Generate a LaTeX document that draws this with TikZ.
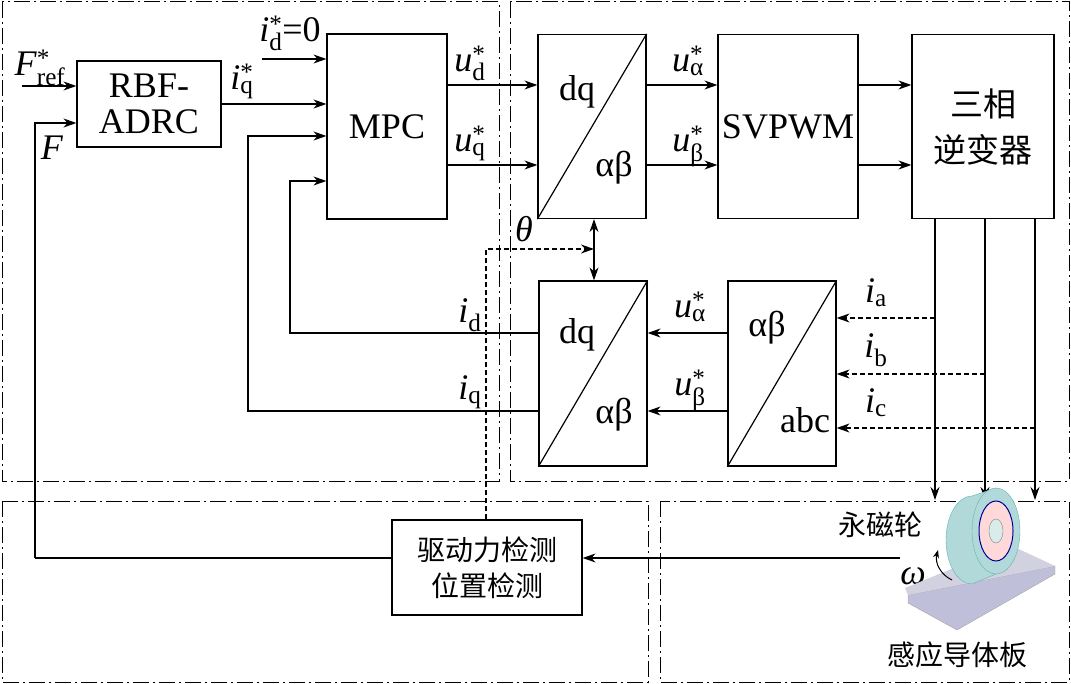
\documentclass[tikz,border=0pt]{standalone}
\usepackage{fontspec}
\setmainfont{Liberation Serif}
\newfontfamily\cjk{Noto Sans CJK SC}
\usetikzlibrary{arrows.meta}
\newcommand\vv[3]{\textit{#1}\rlap{\textsuperscript{#3}}\textsubscript{#2}}
\begin{document}
\begin{tikzpicture}[x=1pt,y=-1pt,
  ln/.style={line width=1.2pt},
  ar/.style={line width=1.2pt,-{Stealth[length=13pt,width=9pt]}},
  dar/.style={line width=1.1pt,dash pattern=on 5pt off 3pt,-{Stealth[length=13pt,width=9pt]}},
  reg/.style={line width=1pt,dash pattern=on 16pt off 4pt on 2pt off 4pt},
  txt/.style={font=\fontsize{36}{36}\selectfont},
  lb/.style={font=\fontsize{36}{36}\selectfont},
  ck/.style={font=\cjk\fontsize{28}{36}\selectfont}]
\useasboundingbox (0,0) rectangle (1071,684);
% regions
\draw[reg] (2,2) rectangle (499,481);
\draw[reg] (510,2) rectangle (1069,481);
\draw[reg] (2,501) rectangle (648,682);
\draw[reg] (660,501) rectangle (1069,682);
% blocks
\node[draw,ln,minimum width=144pt,minimum height=86pt,align=center,txt,inner sep=0pt] (adrc) at (149,104) {RBF-\\ADRC};
\node[draw,ln,minimum width=120pt,minimum height=185pt,txt] (mpc) at (387,126.5) {MPC};
\node[draw,ln,minimum width=108pt,minimum height=184pt] (t1) at (592,126.5) {};
\draw[ln] (t1.south west) -- (t1.north east);
\node[txt] at (577,92) {dq}; \node[txt] at (614,168) {αβ};
\node[draw,ln,minimum width=140pt,minimum height=184pt,txt,inner sep=0pt] (svp) at (788,126.5) {SVPWM};
\node[draw,ln,minimum width=142pt,minimum height=184pt,align=center,font=\cjk\fontsize{33}{46}\selectfont] (inv) at (983,126.5) {三相\\逆变器};
\node[draw,ln,minimum width=108pt,minimum height=185pt] (t2) at (593,373.5) {};
\draw[ln] (t2.south west) -- (t2.north east);
\node[txt] at (577,335) {dq}; \node[txt] at (614,415) {αβ};
\node[draw,ln,minimum width=108pt,minimum height=185pt] (t3) at (782,373.5) {};
\draw[ln] (t3.south west) -- (t3.north east);
\node[txt] at (767,328) {αβ}; \node[txt] at (805,420) {abc};
\node[draw,ln,minimum width=190pt,minimum height=95pt,align=center,ck,inner sep=0pt] (det) at (487,567.5) {驱动力检测\\位置检测};
% coordinates
\coordinate (fr) at (22,86);
\coordinate (fv) at (35,558);
\coordinate (id0) at (262,59);
\coordinate (wo) at (900,558);
% inputs
\draw[ar] (fr) -- (fr -| adrc.west);
\draw[ar] (fv) -- (35,123) -- (adrc.west |- 0,123);
\draw[ln] (fv) -- (det.west |- fv);
\draw[ar] (wo) -- (det.east |- wo);
\draw[ar] (id0) -- (mpc.west |- id0);
\draw[ar] (adrc.east |- 0,104) -- (mpc.west |- 0,104);
\draw[ar] (t2.west |- 0,411) -- (248,411) -- (248,136) -- (mpc.west |- 0,136);
\draw[ar] (t2.west |- 0,333) -- (290,333) -- (290,181) -- (mpc.west |- 0,181);
\draw[ar] (mpc.east |- 0,85) -- (t1.west |- 0,85);
\draw[ar] (mpc.east |- 0,165) -- (t1.west |- 0,165);
\draw[ar] (t1.east |- 0,85) -- (svp.west |- 0,85);
\draw[ar] (t1.east |- 0,165) -- (svp.west |- 0,165);
\draw[ar] (svp.east |- 0,85) -- (inv.west |- 0,85);
\draw[ar] (svp.east |- 0,165) -- (inv.west |- 0,165);
\draw[ln,{Stealth[length=13pt,width=9pt]}-{Stealth[length=13pt,width=9pt]}] (t1.south -| 594,0) -- (t2.north -| 594,0);
\draw[dar] (det.north -| 486,0) -- (486,249) -- (594,249);
\draw[ar] (t3.west |- 0,333) -- (t2.east |- 0,333);
\draw[ar] (t3.west |- 0,411) -- (t2.east |- 0,411);
\foreach \x/\y in {935/318,985/374,1035/428}{
  \draw[ar] (inv.south -| \x,0) -- (\x,500);
  \draw[dar] (\x,\y) -- (t3.east |- 0,\y);
}
% labels
\node[lb,anchor=base] at (40,76) {\vv{F}{ref}{*}};
\node[lb,anchor=base] at (52,160) {\textit{F}};
\node[lb,anchor=base] at (290,42) {\vv{i}{d}{*}=0};
\node[lb,anchor=base] at (242,90) {\vv{i}{q}{*}};
\node[lb,anchor=base] at (470,72) {\vv{u}{d}{*}};
\node[lb,anchor=base] at (470,152) {\vv{u}{q}{*}};
\node[lb,anchor=base] at (688,72) {\vv{u}{α}{*}};
\node[lb,anchor=base] at (688,152) {\vv{u}{β}{*}};
\node[lb,anchor=base] at (690,318) {\vv{u}{α}{*}};
\node[lb,anchor=base] at (690,396) {\vv{u}{β}{*}};
\node[lb,anchor=base] at (470,323) {\vv{i}{d}{}};
\node[lb,anchor=base] at (470,400) {\vv{i}{q}{}};
\node[lb,anchor=base] at (876,303) {\vv{i}{a}{}};
\node[lb,anchor=base] at (876,358) {\vv{i}{b}{}};
\node[lb,anchor=base] at (876,413) {\vv{i}{c}{}};
\node[lb,anchor=base] at (524,242) {\textit{θ}};
\node[lb,anchor=base] at (913,584) {\textit{ω}};
\node[ck] at (880,525) {永磁轮};
\node[ck] at (957,655) {感应导体板};
% wheel and plate
\fill[blue!25!gray!40,draw=gray!70] (908,595) -- (1055,566) -- (1055,574) -- (957,630) -- (908,603) -- cycle;
\fill[blue!20!gray!30] (908,595) -- (1055,566) -- (1010,545) -- (905,588) -- cycle;
\fill[teal!30!white,draw=teal!60] (996,488) -- (972,496) arc[start angle=90,end angle=270,x radius=26pt,y radius=44pt] -- (996,574) -- cycle;
\fill[teal!30!white,draw=teal!60] (996,531) ellipse[x radius=24pt,y radius=43pt];
\fill[pink!60,draw=blue!60!black,line width=1pt] (996,531) ellipse[x radius=17pt,y radius=30pt];
\fill[teal!15,draw=gray] (996,531) ellipse[x radius=7pt,y radius=12pt];
\draw[line width=1pt,-{Stealth[length=8pt,width=6pt]}] (952,580) to[bend left=40] (938,550);
\end{tikzpicture}
\end{document}
